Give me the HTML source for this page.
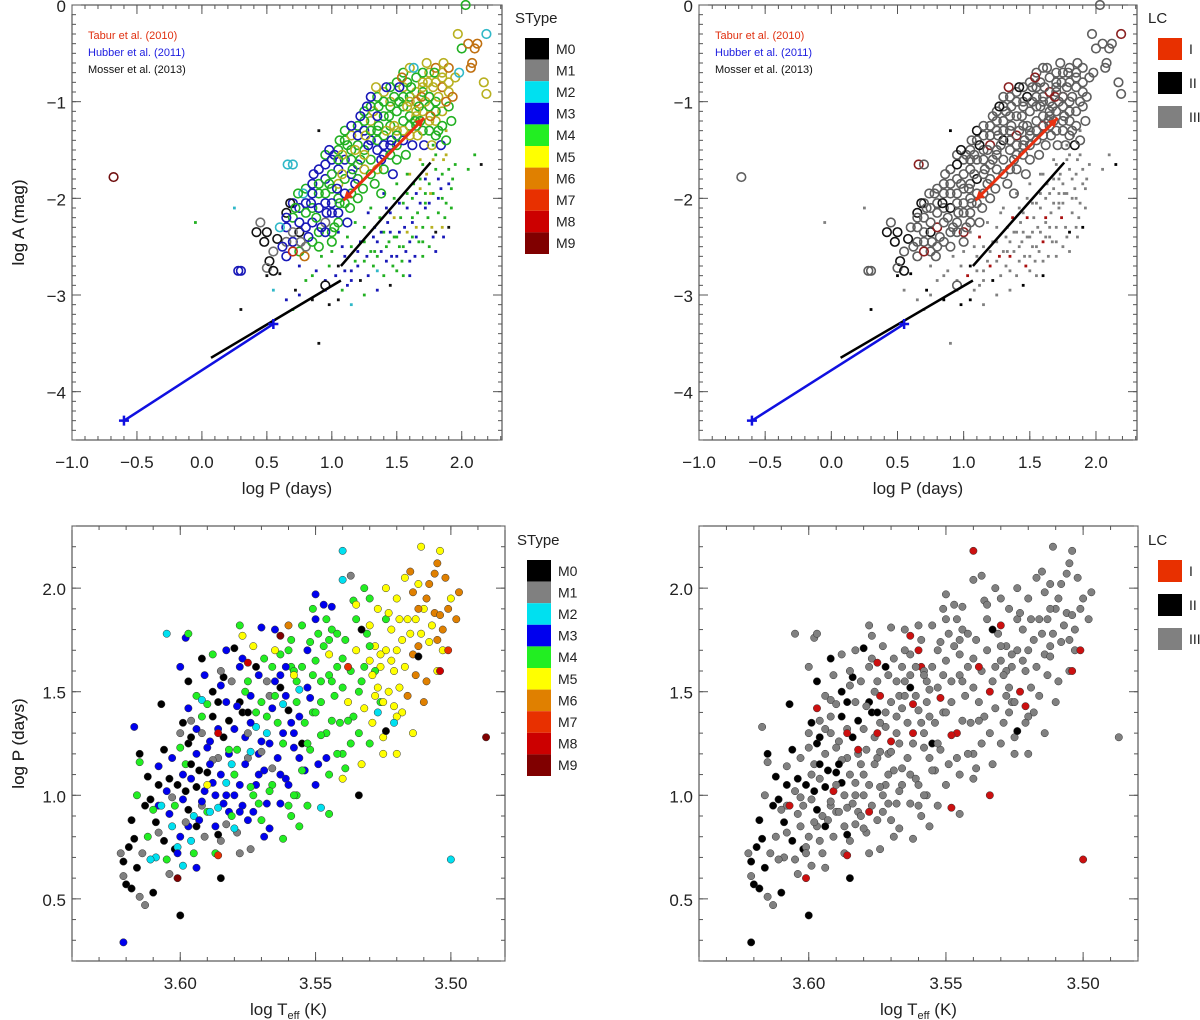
<!DOCTYPE html>
<html><head><meta charset="utf-8"><style>
html,body{margin:0;padding:0;background:#fff;}
svg{display:block;font-family:"Liberation Sans",sans-serif;}
</style></head><body>
<svg id="fig" width="1200" height="1020" viewBox="0 0 1200 1020" xmlns="http://www.w3.org/2000/svg"></svg>
<script>
const stypeLabels=["M0","M1","M2","M3","M4","M5","M6","M7","M8","M9"];
const stypeColors=["#000000","#808080","#00e0f0","#0000ee","#22ee22","#ffff00","#e08000","#e83000","#cc0000","#800000"];
const lcLabels=["I","II","III"];
const lcColors=["#e83000","#000000","#808080"];
const topXTicks=[-1.0,-0.5,0.0,0.5,1.0,1.5,2.0];
const topXTickLabels=["\u22121.0","\u22120.5","0.0","0.5","1.0","1.5","2.0"];
const topYTicks=[0,-1,-2,-3,-4];
const topYTickLabels=["0","\u22121","\u22122","\u22123","\u22124"];
const botXTicks=[3.60,3.55,3.50];
const botXTickLabels=["3.60","3.55","3.50"];
const botYTicks=[0.5,1.0,1.5,2.0];
const botYTickLabels=["0.5","1.0","1.5","2.0"];
// top panel circles: [logP, logA, stype, lc]
const topCircles=[
[0.30,-2.75,3,2],[0.45,-2.25,1,2],[0.42,-2.35,0,1],[0.50,-2.35,0,1],[0.48,-2.45,0,1],[0.55,-2.55,1,2],[0.52,-2.65,0,1],[0.50,-2.72,1,2],[0.58,-2.42,0,1],[0.60,-2.30,2,2],[0.55,-2.75,0,1],[0.62,-2.50,3,2],
[0.65,-2.20,3,2],[0.68,-2.05,0,1],[0.70,-2.35,1,2],[0.72,-2.10,4,2],[0.75,-2.25,3,2],[0.78,-1.95,2,2],[0.80,-2.15,4,2],[0.82,-2.40,3,2],[0.70,-2.55,7,0],[0.85,-1.95,3,2],[0.88,-2.20,4,2],[0.76,-2.45,1,2],[0.90,-1.85,4,2],[0.84,-2.05,3,1],[0.92,-2.30,3,2],[0.66,-1.65,2,0],[0.79,-2.60,6,2],[0.86,-1.75,3,2],[0.74,-1.95,4,2],[0.90,-2.50,4,2],
[0.95,-1.65,3,1],[0.98,-1.85,4,2],[1.00,-2.05,3,2],[1.02,-1.55,3,2],[1.05,-2.25,4,2],[1.08,-1.75,5,2],[1.10,-1.95,3,2],[1.12,-1.45,4,1],[1.00,-1.75,4,2],[1.04,-1.90,3,2],[1.15,-1.60,4,2],[1.18,-1.85,3,2],[0.96,-2.15,3,2],[1.06,-1.40,4,2],[1.14,-2.10,4,2],[1.20,-1.35,3,2],[1.08,-1.55,5,2],[1.16,-1.70,4,2],[0.98,-1.50,3,1],[1.12,-2.25,3,2],[1.02,-2.30,4,2],[1.18,-1.50,5,2],[1.06,-2.05,4,2],[1.10,-1.30,4,1],
[1.22,-1.60,4,2],[1.25,-1.20,4,2],[1.28,-1.45,3,2],[1.30,-1.75,4,2],[1.32,-1.10,5,2],[1.35,-1.40,4,2],[1.38,-1.60,3,2],[1.40,-1.00,4,2],[1.42,-1.30,5,2],[1.45,-1.55,4,2],[1.48,-0.95,4,1],[1.24,-1.90,4,2],[1.27,-1.05,3,1],[1.33,-1.85,4,2],[1.36,-1.25,4,2],[1.40,-1.70,4,2],[1.44,-1.15,4,2],[1.46,-1.40,3,2],[1.30,-0.95,3,2],[1.34,-0.85,5,0],[1.38,-1.95,4,2],[1.42,-0.85,3,1],[1.48,-1.25,5,2],[1.50,-1.60,4,2],[1.26,-1.35,5,2],[1.36,-1.05,4,2],[1.22,-1.15,3,2],[1.47,-1.75,3,2],
[1.52,-1.00,4,2],[1.55,-1.30,5,2],[1.58,-0.80,4,2],[1.60,-1.15,4,2],[1.62,-1.45,3,2],[1.65,-0.90,5,0],[1.68,-1.20,4,2],[1.70,-0.70,4,2],[1.72,-1.00,5,2],[1.75,-1.30,4,2],[1.78,-0.85,5,2],[1.80,-1.10,4,2],[1.54,-0.75,6,0],[1.57,-1.55,4,2],[1.63,-0.65,2,2],[1.66,-1.35,5,2],[1.69,-0.95,6,0],[1.73,-0.60,5,2],[1.76,-1.15,6,2],[1.79,-0.70,4,2],[1.58,-1.05,5,2],[1.64,-1.20,4,2],[1.71,-1.45,3,2],[1.52,-0.85,3,2],[1.61,-0.85,4,2],[1.74,-0.80,5,2],[1.67,-1.05,4,2],[1.77,-1.45,5,2],[1.55,-0.95,4,2],[1.82,-0.95,5,2],
[1.82,-1.30,4,2],[1.85,-0.75,5,2],[1.88,-1.00,6,2],[1.90,-0.80,5,2],[1.92,-1.20,4,2],[1.95,-0.75,5,2],[1.86,-0.60,5,2],[1.84,-1.45,3,1],[1.93,-0.95,6,2],[1.97,-0.30,5,2],[2.00,-0.45,4,2],[2.03,0.00,4,2],[2.05,-0.40,6,2],[2.07,-0.65,6,2],[2.10,-0.45,6,2],[2.12,-0.40,6,2],[2.17,-0.80,5,2],[2.19,-0.30,2,0],[2.19,-0.92,5,2],[1.98,-0.70,2,2],[2.08,-0.60,6,2],[1.88,-1.40,4,2],
[-0.68,-1.78,9,2],[0.70,-1.65,2,2],[0.28,-2.75,3,2],[0.95,-2.90,0,2],
[1.05,-1.60,4,2],[1.15,-1.25,3,2],[1.25,-1.55,5,2],[1.35,-1.15,3,2],[1.45,-1.05,4,2],[1.55,-1.20,4,2],[1.65,-1.10,5,2],[1.75,-0.95,4,2],[1.20,-2.00,4,2],[1.30,-1.30,4,2],[1.40,-1.45,3,2],[1.50,-1.35,4,2],[1.60,-1.00,5,2],[1.70,-0.85,5,2],[0.95,-2.35,3,2],[1.00,-2.45,4,2]
];
const topCirclesCore=[
[0.65,-2.15,0,1],[0.65,-2.30,3,2],[0.65,-2.45,1,2],[0.65,-2.60,3,2],
[0.70,-2.05,3,2],[0.70,-2.20,4,2],[0.70,-2.45,3,2],
[0.75,-2.10,3,2],[0.75,-2.35,0,1],[0.75,-2.55,4,2],
[0.80,-1.90,4,2],[0.80,-2.05,3,2],[0.80,-2.30,3,0],[0.80,-2.50,1,2],
[0.85,-1.85,3,2],[0.85,-2.10,4,2],[0.85,-2.25,3,2],[0.85,-2.45,4,2],
[0.90,-1.70,3,2],[0.90,-1.95,4,2],[0.90,-2.10,3,1],[0.90,-2.35,4,2],
[0.95,-1.55,4,2],[0.95,-1.80,3,2],[0.95,-1.95,4,2],[0.95,-2.05,3,2],[0.95,-2.25,1,2],
[1.00,-1.60,3,2],[1.00,-1.90,4,2],[1.00,-2.15,3,2],[1.00,-2.35,4,0],
[1.05,-1.50,4,2],[1.05,-1.70,3,2],[1.05,-1.85,5,2],[1.05,-2.00,4,2],[1.05,-2.15,3,2],
[1.10,-1.40,4,2],[1.10,-1.60,3,2],[1.10,-1.80,4,1],[1.10,-2.05,4,2],
[1.15,-1.35,5,2],[1.15,-1.50,4,2],[1.15,-1.75,3,2],[1.15,-1.95,4,2],
[1.20,-1.25,4,2],[1.20,-1.45,4,0],[1.20,-1.65,3,2],[1.20,-1.80,4,2],
[1.25,-1.10,4,2],[1.25,-1.30,3,2],[1.25,-1.50,4,2],[1.25,-1.70,5,2],
[1.30,-1.05,4,2],[1.30,-1.20,5,2],[1.30,-1.40,3,1],[1.30,-1.60,4,2],
[1.35,-0.95,4,2],[1.35,-1.30,4,2],[1.35,-1.50,3,2],[1.35,-1.70,5,2],
[1.40,-0.90,5,2],[1.40,-1.15,4,2],[1.40,-1.35,4,0],[1.40,-1.55,3,2],
[1.45,-0.85,4,2],[1.45,-1.00,5,2],[1.45,-1.25,4,2],[1.45,-1.45,3,2],
[1.50,-0.80,4,2],[1.50,-1.10,4,2],[1.50,-1.30,5,2],[1.50,-1.45,4,2],
[1.55,-0.70,4,2],[1.55,-0.85,5,2],[1.55,-1.05,4,2],[1.55,-1.40,3,2],
[1.60,-0.65,5,2],[1.60,-0.95,4,2],[1.60,-1.25,4,0],[1.60,-1.35,5,2],
[1.65,-0.75,4,2],[1.65,-1.00,6,2],[1.65,-1.15,5,2],[1.65,-1.25,4,2],
[1.70,-0.80,5,2],[1.70,-0.90,4,2],[1.70,-1.10,5,2],[1.70,-1.30,4,2],
[1.75,-0.70,5,2],[1.75,-0.95,6,0],[1.75,-1.05,4,2],[1.75,-1.20,5,2],
[1.80,-0.65,6,2],[1.80,-0.80,5,2],[1.80,-1.00,4,2],[1.80,-1.20,5,2],[1.80,-1.35,4,2],
[1.85,-0.70,5,2],[1.85,-0.85,6,2],[1.85,-1.10,5,2],[1.85,-1.25,4,2],
[1.90,-0.65,6,2],[1.90,-0.90,5,2],[1.90,-1.05,4,2]
];
// top panel dots: [logP, logA, stype, lc]
const topDots=[
[0.50,-2.80,0,1],[0.55,-2.95,2,2],[0.60,-2.78,0,1],[0.65,-3.05,3,2],[0.72,-2.95,0,1],[0.75,-2.70,3,2],[0.80,-2.85,4,2],[0.85,-3.05,0,1],[0.88,-2.75,3,2],[0.92,-2.60,4,2],[0.95,-2.85,3,2],[0.98,-3.10,0,1],[1.00,-2.55,4,2],[1.03,-2.80,3,0],[1.05,-2.35,3,2],[1.08,-2.95,4,2],[1.10,-2.60,3,2],[1.12,-2.40,4,0],[1.15,-2.75,3,2],[1.18,-2.25,4,2],[1.20,-2.55,3,2],[1.22,-2.85,0,1],[1.25,-2.30,4,2],[1.27,-2.60,3,0],[1.30,-2.10,4,2],[1.32,-2.40,3,2],[1.35,-2.75,2,2],[1.37,-2.20,4,0],[1.40,-1.95,3,2],[1.42,-2.50,4,2],[1.45,-2.15,3,2],[1.47,-2.70,4,0],[1.50,-1.85,4,2],[1.52,-2.35,3,2],[1.55,-2.05,4,2],[1.57,-2.55,3,2],[1.60,-1.75,5,2],[1.62,-2.20,4,0],[1.65,-1.95,3,2],[1.67,-2.45,4,2],[1.70,-1.65,4,2],[1.72,-2.10,3,2],[1.75,-1.85,4,2],[1.77,-2.30,5,2],[1.80,-1.55,4,2],[1.82,-2.00,3,2],[1.85,-1.75,4,2],[1.87,-2.20,4,2],[1.90,-2.30,0,1],[1.92,-1.90,4,2],[1.60,-2.65,3,2],[1.55,-2.80,4,2],[1.45,-2.90,0,1],[1.35,-2.95,3,2],[1.25,-3.00,4,2],[1.15,-3.10,2,2],[1.05,-3.05,0,1],[1.40,-2.35,4,2],[1.50,-2.60,3,2],[1.65,-2.30,5,2],[1.70,-2.45,4,2],[1.75,-2.05,3,2],[1.80,-2.35,0,1],[1.85,-2.00,4,2],[1.90,-1.70,4,2],[1.78,-1.60,5,2],[1.83,-1.35,4,2],[1.88,-1.55,5,2],[1.93,-1.80,4,2],[2.05,-1.70,4,2],[2.10,-1.55,4,2],[2.15,-1.65,0,1],[0.30,-3.15,0,1],[0.25,-2.10,2,2],[-0.05,-2.25,4,2],[0.90,-3.50,0,2],[0.90,-1.30,0,1],[0.70,-3.15,4,2],[1.33,-2.55,4,2],[1.28,-2.15,3,2],[1.38,-2.55,3,2],[1.48,-2.40,4,2],[1.58,-2.10,3,2],[1.63,-1.85,4,2],[1.68,-2.05,3,2],[1.73,-1.75,5,2],[1.43,-2.25,3,2],[1.53,-2.20,4,2],[1.18,-2.65,4,2],[1.08,-2.50,3,2],[0.98,-2.70,4,2],[1.12,-2.90,3,2],[1.22,-2.45,3,2],
[1.62,-2.40,4,2],[1.72,-1.95,4,2],[1.82,-1.80,3,2],[1.52,-2.50,4,2],[1.42,-2.65,3,2],[1.32,-2.70,4,2],[1.58,-2.35,5,2],[1.68,-1.80,4,2],[1.78,-1.95,4,2],[1.86,-2.40,3,2],
[1.10,-2.75,3,2],[1.15,-2.50,4,2],[1.20,-2.70,3,0],[1.25,-2.45,4,2],[1.28,-2.80,3,2],[1.30,-2.55,4,2],[1.33,-2.30,3,2],[1.35,-2.60,4,0],[1.38,-2.35,3,2],[1.40,-2.80,4,2],[1.42,-2.10,3,2],[1.44,-2.45,4,2],[1.46,-2.60,3,2],[1.48,-2.20,5,0],[1.50,-2.40,4,2],[1.52,-2.05,3,2],[1.54,-2.65,4,2],[1.56,-2.30,3,2],[1.58,-1.95,4,2],[1.60,-2.45,3,0],[1.62,-2.00,4,2],[1.64,-2.60,3,2],[1.66,-2.15,4,2],[1.68,-1.90,5,2],[1.70,-2.30,4,2],[1.72,-1.80,3,2],[1.74,-2.20,4,0],[1.76,-1.95,5,2],[1.78,-2.40,3,2],[1.80,-1.70,4,2],[1.82,-2.15,4,2],[1.84,-1.90,3,2],[1.86,-1.60,5,2],[1.88,-2.05,4,2],[1.90,-1.85,3,2],[1.92,-2.10,4,2],[1.80,-2.55,3,2],[1.70,-2.60,4,2],[1.60,-2.80,3,1],[1.50,-2.75,4,2],[1.45,-2.35,3,2],[1.55,-2.50,4,2],[1.65,-2.40,3,2],[1.75,-2.50,4,2],[1.85,-2.30,5,2],[1.95,-1.65,4,2],[1.35,-2.45,3,2],[1.25,-2.65,4,2],[1.15,-2.85,3,2],[1.05,-2.70,0,1],[0.95,-2.95,3,2],[0.85,-2.80,4,2],[0.75,-3.00,3,2],[1.48,-2.00,4,2],[1.58,-1.75,4,2],[1.68,-1.60,5,2],[1.78,-1.45,4,2],[1.88,-1.30,5,2],[1.62,-2.25,3,2],[1.72,-2.05,4,2]
];
// fit lines: [x1,y1,x2,y2]
const taburLine=[1.09,-2.02,1.71,-1.17];
const hubberLine=[-0.60,-4.30,0.55,-3.30];
const mosserLine1=[0.07,-3.65,1.07,-2.85];
const mosserLine2=[1.07,-2.70,1.76,-1.63];
// bottom panel: [logTeff, logP, stype, lc]
const botPoints=[
[3.621,0.68,0,1],[3.620,0.57,0,1],[3.618,0.55,0,1],[3.616,0.65,0,1],[3.617,0.79,0,1],[3.615,1.20,0,1],[3.613,0.95,0,1],[3.612,1.09,0,1],[3.610,0.53,0,1],[3.609,0.87,0,1],[3.607,1.44,0,1],[3.606,1.22,0,1],[3.604,1.08,0,1],[3.602,0.74,0,1],[3.600,0.42,0,1],[3.599,1.35,0,1],[3.597,0.93,0,1],[3.596,1.28,0,1],[3.594,1.04,0,1],[3.592,1.66,0,1],[3.590,1.11,0,1],[3.588,1.50,0,1],[3.586,0.81,0,1],[3.584,1.57,0,1],[3.582,1.36,0,1],[3.580,1.71,0,1],[3.585,0.60,0,1],[3.578,1.45,0,1],[3.575,1.40,0,1],[3.572,1.62,0,1],[3.563,1.52,0,1],[3.560,1.41,0,2],[3.533,1.80,0,1],[3.534,1.00,0,0],[3.524,1.31,0,1],[3.512,1.67,0,2],[3.555,1.25,0,1],[3.594,0.85,0,1],[3.608,1.05,0,1],
[3.622,0.72,1,2],[3.621,0.61,1,2],[3.615,0.51,1,2],[3.613,0.47,1,2],[3.608,0.82,1,2],[3.603,0.99,1,2],[3.598,0.87,1,2],[3.592,0.95,1,2],[3.588,1.17,1,2],[3.583,0.86,1,2],[3.578,0.72,1,2],[3.575,1.30,1,0],[3.570,1.21,1,2],[3.566,1.13,1,2],[3.596,1.36,1,2],[3.585,1.60,1,2],[3.574,0.74,1,2],[3.537,2.06,1,2],[3.568,1.55,1,2],
[3.611,0.69,2,2],[3.607,0.95,2,0],[3.601,0.75,2,2],[3.596,0.78,2,2],[3.592,1.46,2,2],[3.586,0.94,2,2],[3.580,0.84,2,2],[3.574,1.21,2,2],[3.568,1.30,2,2],[3.562,1.44,2,0],[3.556,1.51,2,2],[3.548,0.94,2,0],[3.540,2.18,2,0],[3.540,2.04,2,2],[3.527,1.40,2,2],[3.521,1.35,2,2],[3.500,0.69,2,0],[3.605,1.78,2,2],[3.583,1.06,2,2],
[3.621,0.29,3,1],[3.617,1.33,3,2],[3.608,1.14,3,2],[3.604,0.91,3,2],[3.601,0.72,3,2],[3.599,1.10,3,2],[3.597,1.42,3,0],[3.594,1.32,3,2],[3.592,0.97,3,2],[3.590,1.23,3,2],[3.588,1.06,3,1],[3.586,1.32,3,2],[3.584,0.96,3,2],[3.582,1.20,3,2],[3.580,1.00,3,2],[3.578,0.92,3,0],[3.576,1.15,3,2],[3.574,1.35,3,2],[3.572,1.05,3,2],[3.570,1.26,3,0],[3.568,0.96,3,2],[3.566,1.42,3,2],[3.564,1.18,3,2],[3.562,1.30,3,0],[3.560,1.05,3,2],[3.558,1.23,3,2],[3.556,1.38,3,2],[3.554,1.12,3,2],[3.552,1.47,3,0],[3.550,1.85,3,2],[3.550,1.97,3,2],[3.546,1.18,3,2],[3.544,1.91,3,2],[3.585,1.53,3,2],[3.577,1.66,3,2],[3.570,1.81,3,2],[3.598,1.76,3,2],[3.594,0.65,3,2],[3.563,1.58,3,2],[3.579,1.43,3,2],[3.589,1.15,3,1],[3.567,0.84,3,2],[3.571,1.10,3,2],[3.559,1.35,3,2],
[3.615,1.16,4,2],[3.610,0.93,4,2],[3.605,0.69,4,2],[3.600,1.23,4,2],[3.597,1.78,4,2],[3.592,1.38,4,2],[3.587,0.72,4,2],[3.582,1.22,4,0],[3.578,1.82,4,2],[3.574,1.04,4,2],[3.570,0.88,4,2],[3.565,1.48,4,2],[3.562,0.79,4,2],[3.558,1.60,4,2],[3.555,1.12,4,2],[3.552,1.74,4,2],[3.550,1.40,4,2],[3.548,1.29,4,0],[3.546,1.85,4,2],[3.544,1.55,4,2],[3.542,1.20,4,2],[3.540,1.66,4,2],[3.538,1.36,4,2],[3.536,1.94,4,2],[3.534,1.50,4,0],[3.532,2.00,4,2],[3.530,1.72,4,2],[3.528,1.60,4,2],[3.526,1.45,4,2],[3.524,1.85,4,2],[3.545,0.91,4,2],[3.556,0.85,4,2],[3.560,1.70,4,0],[3.553,1.25,4,2],[3.548,1.55,4,2],[3.542,1.78,4,2],[3.537,1.25,4,2],[3.566,1.62,4,2],[3.572,1.40,4,2],[3.575,1.55,4,2],[3.580,1.10,4,2],[3.590,1.44,4,2],[3.558,1.00,4,2],[3.551,1.58,4,2],[3.544,1.36,4,2],[3.539,1.13,4,2],[3.532,1.62,4,2],
[3.590,1.05,5,2],[3.577,1.77,5,2],[3.565,1.70,5,2],[3.558,1.58,5,2],[3.545,1.68,5,2],[3.540,1.08,5,2],[3.535,1.92,5,2],[3.533,1.15,5,2],[3.530,1.82,5,0],[3.528,1.48,5,2],[3.526,1.68,5,2],[3.525,1.45,5,2],[3.523,1.88,5,2],[3.522,1.65,5,2],[3.520,1.20,5,2],[3.519,1.52,5,2],[3.518,1.75,5,2],[3.516,1.85,5,2],[3.514,1.30,5,2],[3.512,2.02,5,2],[3.510,1.90,5,2],[3.508,1.74,5,2],[3.505,1.60,5,2],[3.503,1.70,5,2],[3.511,2.20,5,2],[3.504,2.18,5,2],[3.500,1.95,5,2],[3.529,1.58,5,2],[3.521,1.43,5,0],
[3.515,2.08,6,2],[3.512,1.90,6,2],[3.509,1.55,6,2],[3.506,2.07,6,2],[3.504,1.87,6,2],[3.502,2.05,6,2],[3.497,1.98,6,2],[3.510,1.45,6,2],[3.505,1.75,6,2],[3.513,1.58,6,2],[3.560,1.82,6,2],
[3.586,0.71,7,0],[3.501,1.70,7,0],[3.538,1.62,7,0],[3.504,1.60,8,0],[3.575,1.64,8,0],[3.586,1.30,8,0],[3.487,1.28,9,2],[3.601,0.60,9,0],[3.563,1.77,9,0]
];
const botPointsMore=[
[3.603,1.18,3,2],[3.601,1.05,0,1],[3.600,1.30,1,2],[3.599,0.98,3,2],[3.598,1.15,4,2],[3.597,1.25,0,1],[3.596,1.08,3,2],[3.595,0.90,2,2],[3.594,1.20,3,2],[3.593,1.12,0,1],[3.592,1.30,1,2],[3.591,1.02,3,0],[3.590,0.92,4,2],[3.589,1.26,3,2],[3.588,1.38,0,1],[3.587,1.00,3,2],[3.586,1.18,1,2],[3.585,1.10,3,2],[3.584,1.28,0,1],[3.583,1.45,3,2],[3.582,0.92,3,2],[3.581,1.15,2,2],[3.580,1.32,3,2],[3.579,1.22,4,2],[3.578,1.05,3,2],[3.577,1.40,0,1],[3.576,1.28,3,2],[3.575,1.18,1,2],[3.574,1.48,3,0],[3.573,1.00,4,2],[3.572,1.33,2,2],[3.571,1.20,3,2],[3.570,1.45,4,2],[3.569,1.12,3,2],[3.568,1.38,4,2],[3.567,1.25,3,2],[3.566,1.05,4,2],[3.565,1.55,3,2],[3.564,1.35,4,2],[3.563,1.10,3,2],[3.562,1.25,4,2],[3.561,1.48,3,2],[3.560,0.95,4,2],[3.559,1.62,4,0],[3.558,1.30,3,2],[3.557,1.45,4,2],[3.556,1.18,3,2],[3.555,1.62,4,2],[3.554,1.35,4,2],[3.553,1.52,3,2],[3.552,1.22,4,2],[3.551,1.40,4,2],[3.550,1.65,4,2],[3.549,1.15,3,2],[3.548,1.45,4,2],[3.547,1.72,4,2],[3.546,1.30,4,0],[3.545,1.58,4,2],[3.544,1.80,4,2],[3.543,1.48,4,2],[3.542,1.62,4,2],[3.541,1.35,4,2],[3.540,1.52,4,2],[3.539,1.75,4,2],[3.538,1.45,5,2],[3.537,1.60,4,2],[3.536,1.38,4,2],[3.535,1.70,5,2],[3.534,1.30,4,2],[3.533,1.55,4,2],[3.532,1.42,5,2],[3.531,1.78,4,2],[3.530,1.65,5,2],[3.529,1.35,5,2],[3.528,1.72,5,2],[3.527,1.52,5,2],[3.526,1.62,5,2],[3.525,1.28,5,2],[3.524,1.70,5,2],[3.523,1.50,5,0],[3.522,1.80,5,2],[3.521,1.60,5,2],[3.520,1.70,5,2],[3.519,1.85,5,2],[3.518,1.40,5,2],[3.517,1.62,5,2],[3.516,1.48,6,2],[3.515,1.78,5,2],[3.514,1.68,6,2],[3.513,1.85,5,2],[3.512,1.72,6,2],[3.511,1.78,5,2],[3.509,1.95,6,2],[3.507,1.82,5,2],[3.506,1.88,6,2],[3.503,1.80,6,2],
[3.619,0.75,0,1],[3.618,0.88,0,1],[3.616,1.00,4,2],[3.614,0.72,1,2],[3.612,0.80,4,2],[3.611,0.98,0,1],[3.609,0.70,2,2],[3.608,0.95,3,2],[3.606,0.78,0,1],[3.605,1.02,3,2],[3.604,0.62,1,2],[3.603,0.85,2,2],[3.602,0.95,4,2],[3.600,0.80,3,2],[3.599,0.66,2,2],[3.598,1.02,0,1],[3.597,0.85,3,2],[3.596,1.15,0,1],[3.595,0.72,4,2],[3.593,0.88,3,2],[3.591,0.80,1,2],[3.589,0.92,2,2],[3.587,0.85,3,2],[3.585,0.78,1,2],[3.583,1.00,3,2],[3.581,0.90,4,2],[3.579,0.82,1,2],[3.577,0.95,3,2],[3.575,0.88,3,2],[3.573,0.92,3,2],[3.571,0.96,4,2],[3.569,0.80,3,2],[3.567,1.02,4,2],[3.563,0.96,3,2],[3.561,1.08,3,2],[3.559,0.90,4,2],[3.557,1.00,4,2],
[3.600,1.62,3,2],[3.597,1.55,0,1],[3.594,1.48,4,2],[3.591,1.58,3,2],[3.588,1.68,4,2],[3.586,1.45,0,1],[3.583,1.70,3,2],[3.581,1.55,1,2],[3.578,1.62,3,2],[3.576,1.50,4,2],[3.573,1.72,5,2],[3.571,1.58,3,2],[3.569,1.66,4,2],[3.567,1.48,1,2],[3.565,1.80,3,2],[3.563,1.68,4,2],[3.561,1.62,3,2],[3.559,1.75,4,2],[3.557,1.55,4,2],[3.555,1.82,4,2],[3.553,1.70,3,2],[3.551,1.90,4,2],[3.549,1.78,4,2],[3.547,1.92,3,2],[3.545,1.75,4,2],
[3.535,1.85,4,2],[3.530,1.95,4,2],[3.527,1.90,5,2],[3.524,2.00,5,2],[3.520,1.95,5,2],[3.517,2.05,5,2],[3.514,1.98,6,2],[3.508,2.02,6,2],[3.505,2.12,6,2],[3.501,1.90,6,2],[3.498,1.85,6,2],[3.520,1.38,5,2],[3.525,1.20,5,2],[3.530,1.25,4,2],[3.540,1.20,4,2],[3.545,1.10,4,2],[3.550,1.05,3,2],[3.553,0.95,4,2]
];

const circleStroke=["#111111","#707070","#30b8c8","#1818b8","#22b022","#b8b020","#c07010","#c03010","#a01010","#701010"];
const NS="http://www.w3.org/2000/svg";
const svg=document.getElementById("fig");
function mk(tag,attrs,parent){const e=document.createElementNS(NS,tag);for(const k in attrs)e.setAttribute(k,attrs[k]);(parent||svg).appendChild(e);return e;}
function scale(d0,d1,r0,r1){return v=>r0+(v-d0)/(d1-d0)*(r1-r0);}

function axes(g,box,sx,sy,xt,xtl,yt,ytl,xMinor,yMinor,xTitle,yTitle,isBottom){
  const {x0,x1,y0,y1}=box;
  const frame=mk("rect",{x:x0,y:y0,width:x1-x0,height:y1-y0,fill:"none",stroke:"#333","stroke-width":1},g);
  
  
  const tg=mk("g",{stroke:"#555","stroke-width":1},g);
  
  
  xMinor.forEach(v=>{const x=sx(v);if(x<x0-0.5||x>x1+0.5)return;
    mk("line",{x1:x,x2:x,y1:y1,y2:y1-4},tg);mk("line",{x1:x,x2:x,y1:y0,y2:y0+4},tg);});
  yMinor.forEach(v=>{const y=sy(v);if(y<y0-0.5||y>y1+0.5)return;
    mk("line",{x1:x0,x2:x0+4,y1:y,y2:y},tg);mk("line",{x1:x1,x2:x1-4,y1:y,y2:y},tg);});
  xt.forEach((v,i)=>{const x=sx(v);
    mk("line",{x1:x,x2:x,y1:y1,y2:y1-9},tg);mk("line",{x1:x,x2:x,y1:y0,y2:y0+9},tg);
    const t=mk("text",{x:x,y:y1+28,"text-anchor":"middle","font-size":17,fill:"#222"},g);
    t.textContent=xtl[i];
    
    });
  yt.forEach((v,i)=>{const y=sy(v);
    mk("line",{x1:x0,x2:x0+9,y1:y,y2:y},tg);mk("line",{x1:x1,x2:x1-9,y1:y,y2:y},tg);
    const t=mk("text",{x:x0-6,y:y+7,"text-anchor":"end","font-size":17,fill:"#222"},g);
    t.textContent=ytl[i];
    
    });
  const xtt=mk("text",{x:(x0+x1)/2,y:y1+54,"text-anchor":"middle","font-size":17,fill:"#222"},g);
  if(isBottom){xtt.innerHTML='log T<tspan font-size="11" dy="4">eff</tspan><tspan dy="-4"> (K)</tspan>';}
  else xtt.textContent=xTitle;
  
  
  const ytt=mk("text",{x:0,y:0,"text-anchor":"middle","font-size":17,fill:"#222",
    transform:`translate(24,${(y0+y1)/2}) rotate(-90)`},g);
  ytt.textContent=yTitle;
  
  
}

function legend(g,x,yTitle,yBox,title,labels,colors,bh,gap,bw){
  const t=mk("text",{x:x-10,y:yTitle,"font-size":15,fill:"#222"},g);
  t.textContent=title;
  
  
  labels.forEach((lab,i)=>{
    const y=yBox+i*(bh+gap);
    const r=mk("rect",{x:x,y:y,width:bw,height:bh,fill:colors[i]},g);
    
    
    const tt=mk("text",{x:x+bw+7,y:y+bh/2+5,"font-size":14,fill:"#222"},g);
    tt.textContent=lab;
    
    
  });
}

function refs(g,x){
  [["Tabur et al. (2010)","#e03010",39],["Hubber et al. (2011)","#2020e0",56],["Mosser et al. (2013)","#111",73]].forEach(a=>{
    const t=mk("text",{x:x,y:a[2],"font-size":11,fill:a[1]},g);
    t.textContent=a[0];
    
    
  });
}

function fitLines(g,sx,sy){
  const L=(d,c,w,name)=>{const l=mk("line",{x1:sx(d[0]),y1:sy(d[1]),x2:sx(d[2]),y2:sy(d[3]),stroke:c,"stroke-width":w},g);
    
    return l;};
  L(mosserLine1,"#000",2.5,'mosser-line-short');
  L(mosserLine2,"#000",2.5,'mosser-line-long');
  L(hubberLine,"#1010e0",2.5,'hubber-line');
  [[hubberLine[0],hubberLine[1]],[hubberLine[2],hubberLine[3]]].forEach(p=>{
    const cx=sx(p[0]),cy=sy(p[1]);
    const pl=mk("path",{d:`M${cx-5} ${cy}H${cx+5}M${cx} ${cy-5}V${cy+5}`,stroke:"#1010e0","stroke-width":2.5},g);
    
    });
  L(taburLine,"#e83010",3,'tabur-line');
  const ax=sx(taburLine[0]),ay=sy(taburLine[1]),bx=sx(taburLine[2]),by=sy(taburLine[3]);
  const ang=Math.atan2(by-ay,bx-ax);
  [[ax,ay,ang+Math.PI],[bx,by,ang]].forEach(h=>{
    const [hx,hy,a]=h;const s=9,w=4.5;
    const p1=[hx-s*Math.cos(a)+w*Math.sin(a),hy-s*Math.sin(a)-w*Math.cos(a)];
    const p2=[hx-s*Math.cos(a)-w*Math.sin(a),hy-s*Math.sin(a)+w*Math.cos(a)];
    const tri=mk("polygon",{points:`${hx},${hy} ${p1} ${p2}`,fill:"#e83010"},g);
    
    });
}

function topPanel(ox,x1,useLC){
  const g=mk("g",{});
  
  
  const box={x0:ox,x1:x1,y0:5,y1:440};
  const sx=scale(-1.0,2.31,box.x0,box.x1), sy=scale(0,-4.5,box.y0,box.y1);
  const xm=[];for(let i=-10;i<=23;i++)xm.push(i/10);
  const ym=[];for(let i=0;i<=45;i++)ym.push(-i/10);
  axes(g,box,sx,sy,topXTicks,topXTickLabels,topYTicks,topYTickLabels,xm,ym,"log P (days)","log A (mag)",false);
  refs(g,ox+16);
  const dotCol=p=>useLC?(p[3]===0?"#aa1010":lcColors[p[3]]):circleStroke[p[2]];
  topDots.forEach(p=>{
    const d=mk("rect",{x:sx(p[0])-1.4,y:sy(p[1])-1.4,width:2.8,height:2.8,fill:dotCol(p)},g);
    
    });
  const circCol=p=>useLC?(p[3]===0?"#8a2020":p[3]===1?"#111":"#5e5e5e"):circleStroke[p[2]];
  topCirclesCore.concat(topCircles).forEach(p=>{
    const c=mk("circle",{cx:sx(p[0]),cy:sy(p[1]),r:4.3,fill:"none",stroke:circCol(p),"stroke-width":1.6},g);
    
    });
  fitLines(g,sx,sy);
  if(useLC) legend(g,1158,23,38,"LC",lcLabels,lcColors,22,12,24);
  else legend(g,525,23,38,"SType",stypeLabels,stypeColors,21.6,0,24);
}

function botPanel(ox,x1,useLC){
  const g=mk("g",{});
  
  
  const box={x0:ox,x1:x1,y0:526,y1:961};
  const sx=scale(3.64,3.48,box.x0,box.x1), sy=scale(2.3,0.2,box.y0,box.y1);
  const xm=[];for(let i=348;i<=364;i++)xm.push(i/100);
  const ym=[];for(let i=2;i<=23;i++)ym.push(i/10);
  axes(g,box,sx,sy,botXTicks,botXTickLabels,botYTicks,botYTickLabels,xm,ym,"log Teff (K)","log P (days)",true);
  botPointsMore.concat(botPoints).forEach(p=>{
    const col=useLC?(p[3]===0?"#cc1010":lcColors[p[3]]):stypeColors[p[2]];
    const c=mk("circle",{cx:sx(p[0]),cy:sy(p[1]),r:3.7,fill:col,stroke:"#333","stroke-width":0.5},g);
    
    });
  if(useLC) legend(g,1158,545,560,"LC",lcLabels,lcColors,22,12,24);
  else legend(g,527,545,560,"SType",stypeLabels,stypeColors,21.6,0,24);
}

topPanel(72,502,false);
topPanel(699,1137,true);
botPanel(72,505,false);
botPanel(699,1138,true);
</script>
</body></html>
